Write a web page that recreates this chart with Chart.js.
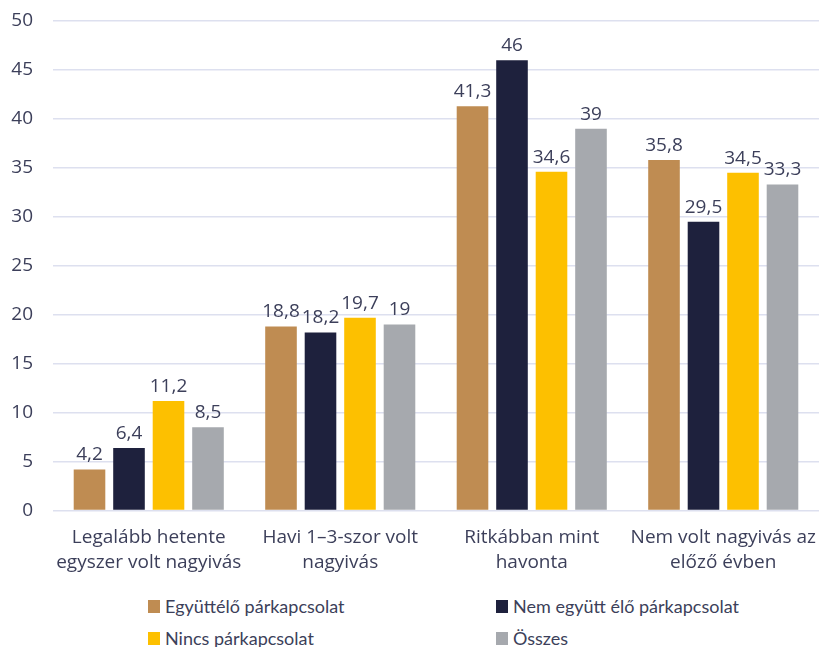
<!DOCTYPE html>
<html>
<head>
<meta charset="utf-8">
<script src="https://cdn.jsdelivr.net/npm/chart.js@4"></script>
<style>
  body { margin: 0; background: #fff; }
  #wrap { position: relative; width: 819px; height: 582px; }
  #legend { position: absolute; left: 0; top: 590px; width: 819px; font-family: Lato, sans-serif; font-size: 18px; color: #3c3f5a; }
  .item { position: absolute; display: flex; align-items: center; white-space: nowrap; }
  .box { width: 12px; height: 13px; margin-right: 5px; }
</style>
</head>
<body>
<div id="wrap"><canvas id="chart"></canvas></div>
<div id="legend"></div>
<script>
const categories = [
  ['Legalább hetente', 'egyszer volt nagyivás'],
  ['Havi 1–3-szor volt', 'nagyivás'],
  ['Ritkábban mint', 'havonta'],
  ['Nem volt nagyivás az', 'előző évben']
];
const seriesNames = ['Együttélő párkapcsolat', 'Nem együtt élő párkapcsolat', 'Nincs párkapcsolat', 'Összes'];
const egyutt = [4.2, 18.8, 41.3, 35.8];
const nemEgyutt = [6.4, 18.2, 46, 29.5];
const nincs = [11.2, 19.7, 34.6, 34.5];
const osszes = [8.5, 19, 39, 33.3];
const colors = ['#bf8c52', '#1e213d', '#fdc000', '#a6a9ae'];
const yTicks = [0, 5, 10, 15, 20, 25, 30, 35, 40, 45, 50];

const textColor = '#3c3f5a';
const tickFont = { family: 'Open Sans', size: 19, lineHeight: 1.3 };

const valueLabels = {
  id: 'valueLabels',
  afterDatasetsDraw(chart) {
    const ctx = chart.ctx;
    ctx.save();
    ctx.fillStyle = textColor;
    ctx.font = '19px "Open Sans"';
    ctx.textAlign = 'center';
    ctx.textBaseline = 'bottom';
    chart.data.datasets.forEach((ds, i) => {
      chart.getDatasetMeta(i).data.forEach((bar, j) => {
        ctx.fillText(String(ds.data[j]).replace('.', ','), bar.x, bar.y - 5);
      });
    });
    ctx.restore();
  }
};

const chart = new Chart(document.getElementById('chart'), {
  type: 'bar',
  data: {
    labels: categories,
    datasets: [egyutt, nemEgyutt, nincs, osszes].map((d, i) => ({
      label: seriesNames[i],
      data: d,
      backgroundColor: colors[i],
      barPercentage: 0.8,
      categoryPercentage: 0.825
    }))
  },
  options: {
    responsive: true,
    maintainAspectRatio: false,
    animation: false,
    layout: { padding: { left: 0, right: 0, top: 0, bottom: 0 } },
    plugins: {
      legend: { display: false },
      tooltip: { enabled: false }
    },
    scales: {
      x: {
        afterFit: axis => { axis.paddingLeft = 0; axis.paddingRight = 0; },
        grid: { display: false },
        border: { display: false },
        ticks: { color: textColor, font: tickFont, padding: 7, maxRotation: 0, autoSkip: false }
      },
      y: {
        min: 0,
        max: 50,
        afterBuildTicks: axis => { axis.ticks = yTicks.map(v => ({ value: v })); },
        afterFit: axis => { axis.width = 53; axis.paddingTop = 21; axis.paddingBottom = 0; },
        border: { display: false },
        grid: { color: '#dde0ef', lineWidth: 1.5, drawTicks: false },
        ticks: { color: textColor, font: tickFont, padding: 20 }
      }
    }
  },
  plugins: [valueLabels]
});

// two-column legend below the chart
const legendEl = document.getElementById('legend');
const pos = [[148, 5], [496, 5], [148, 37], [496, 37]];
chart.data.datasets.forEach((ds, i) => {
  const item = document.createElement('div');
  item.className = 'item';
  item.style.left = pos[i][0] + 'px';
  item.style.top = pos[i][1] + 'px';
  item.innerHTML = '<span class="box" style="background:' + ds.backgroundColor + '"></span>' + ds.label;
  legendEl.appendChild(item);
});
</script>
</body>
</html>
